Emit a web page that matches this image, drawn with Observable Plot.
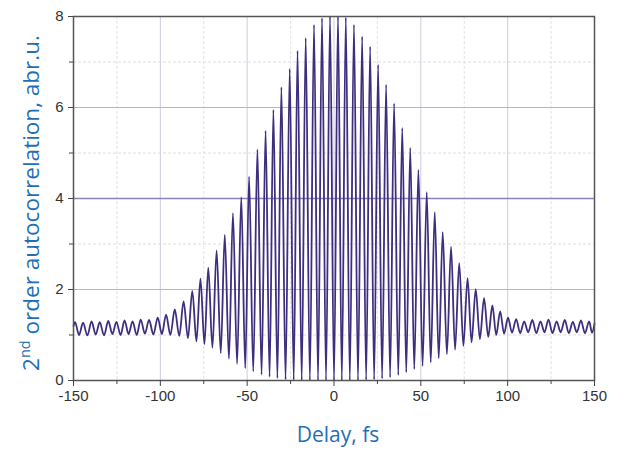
<!DOCTYPE html>
<html>
<head>
<meta charset="utf-8">
<script src="https://cdn.jsdelivr.net/npm/d3@7"></script>
<script src="https://cdn.jsdelivr.net/npm/@observablehq/plot@0.6"></script>
<style>
  html, body { margin: 0; padding: 0; background: #fff; }
  #chart { width: 625px; height: 450px; }
</style>
</head>
<body>
<div id="chart"></div>
<script>
// ---- Data (delay in fs, signal in arb. units) ----
const peakDelay = [
  -149.1, -144.5, -139.6, -134.9, -130.0, -125.3, -120.6, -116.0, -111.3, -106.5,
  -101.5, -96.7, -91.7, -86.6, -81.6, -76.9, -72.4, -67.6, -62.9, -58.2,
  -53.4, -48.9, -44.1, -39.4, -34.9, -30.3, -25.5, -21.0, -16.3, -11.5,
  -6.9, -2.3, 2.3, 6.8, 11.5, 16.2, 20.8, 25.4, 30.0, 34.6,
  39.3, 43.9, 48.6, 53.4, 58.0, 62.6, 67.4, 72.1, 76.9, 81.6,
  86.4, 91.2, 95.7, 100.2, 104.9, 109.5, 114.2, 118.9, 123.5, 128.2,
  132.9, 137.5, 142.2, 146.9
];
const peakValue = [
  1.28, 1.27, 1.30, 1.28, 1.31, 1.29, 1.32, 1.30, 1.34, 1.33,
  1.38, 1.45, 1.56, 1.74, 1.97, 2.24, 2.48, 2.86, 3.20, 3.68,
  4.03, 4.48, 5.08, 5.49, 5.95, 6.45, 6.85, 7.25, 7.53, 7.82,
  7.97, 8.00, 8.00, 7.98, 7.82, 7.56, 7.34, 6.94, 6.50, 6.09,
  5.55, 5.11, 4.63, 4.14, 3.70, 3.26, 2.94, 2.58, 2.25, 2.01,
  1.81, 1.65, 1.52, 1.38, 1.35, 1.30, 1.33, 1.30, 1.34, 1.30,
  1.33, 1.29, 1.32, 1.30
];
const troughDelay = [
  -146.8, -142.0, -137.2, -132.4, -127.6, -122.9, -118.3, -113.6, -108.9, -104.0,
  -99.1, -94.2, -89.1, -84.1, -79.2, -74.6, -70.0, -65.2, -60.5, -55.8,
  -51.1, -46.5, -41.7, -37.1, -32.6, -27.9, -23.2, -18.6, -13.9, -9.2,
  -4.6, 0.0, 4.5, 9.1, 13.8, 18.5, 23.1, 27.7, 32.3, 37.0,
  41.6, 46.2, 51.0, 55.7, 60.3, 65.0, 69.7, 74.5, 79.2, 84.0,
  88.8, 93.4, 97.9, 102.5, 107.2, 111.8, 116.5, 121.2, 125.8, 130.5,
  135.2, 139.8, 144.5, 148.6
];
const troughValue = [
  1.00, 0.99, 1.01, 0.99, 1.02, 1.00, 1.02, 1.00, 1.03, 1.01,
  1.02, 1.00, 0.98, 0.93, 0.86, 0.80, 0.72, 0.60, 0.48, 0.37,
  0.27, 0.20, 0.13, 0.08, 0.05, 0.02, 0.01, 0.00, 0.00, 0.00,
  0.00, 0.00, 0.00, 0.00, 0.00, 0.01, 0.02, 0.04, 0.07, 0.12,
  0.18, 0.25, 0.32, 0.40, 0.49, 0.58, 0.68, 0.76, 0.84, 0.91,
  0.96, 1.00, 1.03, 1.05, 1.04, 1.06, 1.04, 1.06, 1.04, 1.06,
  1.04, 1.06, 1.04, 1.05
];
const edgeDelay = [-150, 150];
const edgeValue = [1.20, 1.25];

// ---- Axis tick values ----
const xTicks = [-150, -100, -50, 0, 50, 100, 150];
const xMinorTicks = [-125, -75, -25, 25, 75, 125];
const yTicks = [0, 2, 4, 6, 8];
const yMinorTicks = [1, 3, 5, 7];
const xGridMajor = [-100, -50, 0, 50, 100];
const yGridLight = [2, 6];
const yGridStrong = [4];

// Build the table the line mark needs
const table = [];
peakDelay.forEach((d, i) => table.push({delay: d, value: peakValue[i]}));
troughDelay.forEach((d, i) => table.push({delay: d, value: troughValue[i]}));
edgeDelay.forEach((d, i) => table.push({delay: d, value: edgeValue[i]}));
table.sort((a, b) => a.delay - b.delay);

const tickFont = "'Liberation Sans', Arial, sans-serif";
const plainFmt = d => String(d);

const plot = Plot.plot({
  width: 625,
  height: 450,
  marginLeft: 73,
  marginRight: 31,
  marginTop: 16,
  marginBottom: 70,
  style: {fontFamily: tickFont, fontSize: "14px", color: "#333", background: "#fff"},
  x: {domain: [-150, 150]},
  y: {domain: [0, 8]},
  marks: [
    Plot.ruleY(yMinorTicks, {stroke: "#dedede", strokeDasharray: "3,2", strokeWidth: 1}),
    Plot.ruleX(xMinorTicks, {stroke: "#e2e2e2", strokeDasharray: "3,2", strokeWidth: 1}),
    Plot.ruleX(xGridMajor, {stroke: "#cfcbe0", strokeWidth: 1}),
    Plot.ruleY(yGridLight, {stroke: "#b9b2d8", strokeWidth: 1}),
    Plot.ruleY(yGridStrong, {stroke: "#8c82bd", strokeWidth: 1.3}),
    Plot.line(table, {x: "delay", y: "value", stroke: "#3f2d7e", strokeWidth: 1.8, curve: "monotone-x"}),
    Plot.frame({stroke: "#555", strokeWidth: 1.5}),
    Plot.axisX(xTicks, {tickSize: 6, tickPadding: 4, fontSize: 15, label: null, stroke: "#444", tickFormat: plainFmt}),
    Plot.axisX(xMinorTicks, {tickSize: 4, text: null, label: null, stroke: "#444"}),
    Plot.axisY(yTicks, {tickSize: 5, tickPadding: 5, fontSize: 15, label: null, stroke: "#444", tickFormat: plainFmt}),
    Plot.axisY(yMinorTicks, {tickSize: 4, text: null, label: null, stroke: "#444"})
  ]
});

const svg = d3.select(plot);
const blue = "#1f6fb6";
// x-axis title
svg.append("text")
  .attr("x", 338).attr("y", 442)
  .attr("text-anchor", "middle")
  .attr("fill", blue)
  .style("font-family", "'Open Sans', 'Noto Sans', sans-serif")
  .style("font-size", "21px")
  .text("Delay, fs");
// y-axis title with superscript
const yl = svg.append("text")
  .attr("transform", "translate(39,203) rotate(-90)")
  .attr("text-anchor", "middle")
  .attr("fill", blue)
  .style("font-family", "'Open Sans', 'Noto Sans', sans-serif")
  .style("font-size", "22.5px");
yl.append("tspan").text("2");
yl.append("tspan").attr("dy", -9).style("font-size", "14.5px").text("nd");
yl.append("tspan").attr("dy", 9).text(" order autocorrelation, abr.u.");

document.getElementById("chart").appendChild(plot);
</script>
</body>
</html>
